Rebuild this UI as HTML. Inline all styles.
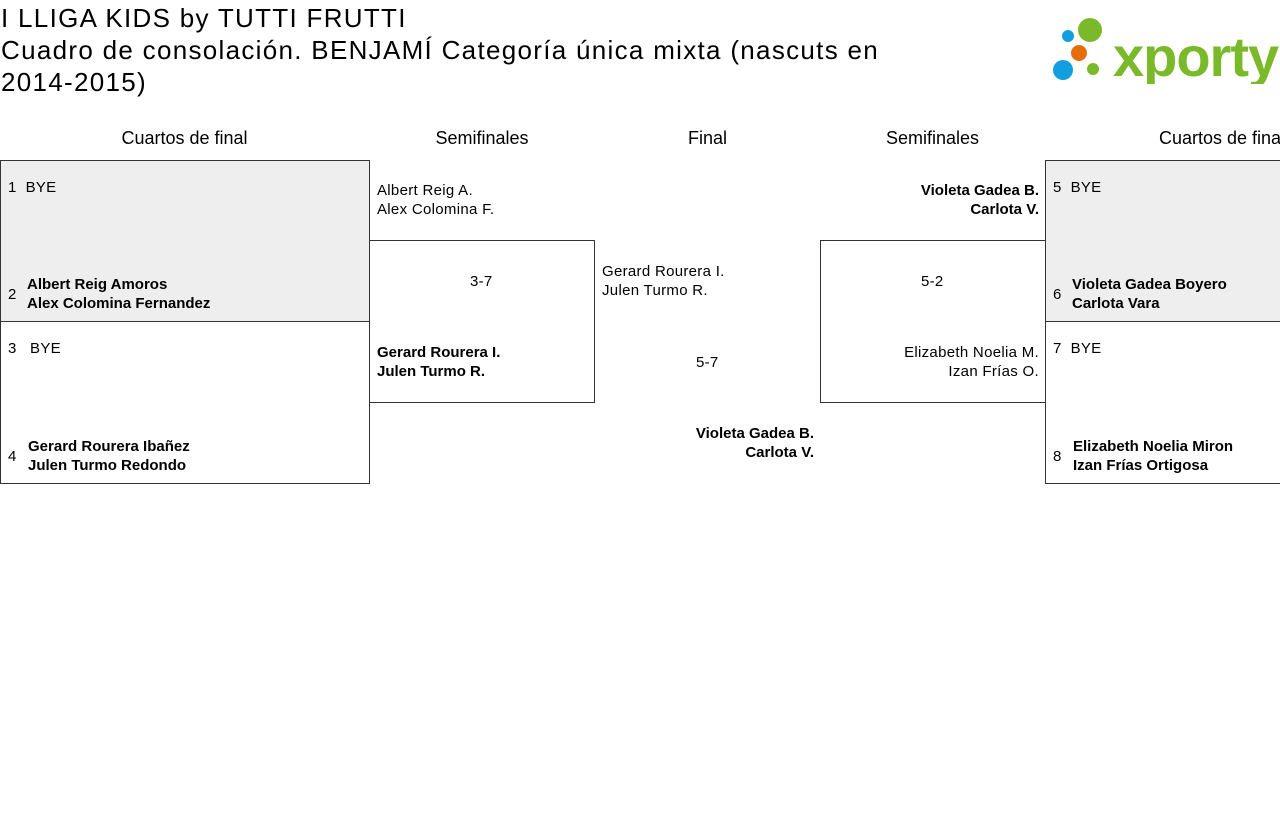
<!DOCTYPE html><html><head><meta charset="utf-8"><style>
body{margin:0;width:1280px;height:829px;background:#fff;font-family:"Liberation Sans",sans-serif;color:#000;position:relative;overflow:hidden}
.a{position:absolute}
.t{font-size:26px;line-height:32px;left:1px;top:2px;width:1000px;letter-spacing:1.3px}
.h{font-size:18px;top:128px;text-align:center}
.box{position:absolute;border:1px solid #333;box-sizing:border-box}
.g{background:#eee}
.s{font-size:15px;line-height:19px;letter-spacing:0.3px}
.b{font-weight:bold;font-size:15px;line-height:19px}
.r{text-align:right}
</style></head><body>
<div class="a t">I LLIGA KIDS by TUTTI FRUTTI<br>Cuadro de consolación. BENJAMÍ Categoría única mixta (nascuts en<br>2014-2015)</div>
<svg class="a" style="left:1050px;top:18px" width="230" height="66">
<circle cx="18" cy="18" r="6" fill="#139fdf"/><circle cx="40" cy="12" r="12" fill="#7ab929"/>
<circle cx="29" cy="35" r="8" fill="#e46e0e"/><circle cx="13" cy="52" r="10" fill="#139fdf"/><circle cx="43" cy="51" r="6" fill="#7ab929"/>
<text x="63" y="58" font-family="Liberation Sans" font-weight="bold" font-size="56" fill="#7ab929" letter-spacing="-1">xporty</text></svg>
<div class="a h" style="left:0;width:369px">Cuartos de final</div>
<div class="a h" style="left:369px;width:226px">Semifinales</div>
<div class="a h" style="left:595px;width:225px">Final</div>
<div class="a h" style="left:820px;width:225px">Semifinales</div>
<div class="a h" style="left:1045px;width:354px">Cuartos de final</div>
<div class="box g" style="left:0;top:160px;width:370px;height:162px"></div>
<div class="box" style="left:0;top:321px;width:370px;height:163px"></div>
<div class="box" style="left:369px;top:240px;width:226px;height:163px"></div>
<div class="box" style="left:820px;top:240px;width:226px;height:163px"></div>
<div class="box g" style="left:1045px;top:160px;width:240px;height:162px"></div>
<div class="box" style="left:1045px;top:321px;width:240px;height:163px"></div>
<div class="a s" style="left:8px;top:178px">1&nbsp;&nbsp;BYE</div>
<div class="a s" style="left:8px;top:285px">2</div><div class="a b" style="left:27px;top:275px">Albert Reig Amoros<br>Alex Colomina Fernandez</div>
<div class="a s" style="left:8px;top:339px">3&nbsp;&nbsp;&nbsp;BYE</div>
<div class="a s" style="left:8px;top:447px">4</div><div class="a b" style="left:28px;top:437px">Gerard Rourera Ibañez<br>Julen Turmo Redondo</div>
<div class="a s" style="left:377px;top:181px">Albert Reig A.<br>Alex Colomina F.</div>
<div class="a s" style="left:470px;top:272px">3-7</div>
<div class="a b" style="left:377px;top:343px">Gerard Rourera I.<br>Julen Turmo R.</div>
<div class="a s" style="left:602px;top:262px">Gerard Rourera I.<br>Julen Turmo R.</div>
<div class="a s" style="left:696px;top:353px">5-7</div>
<div class="a b r" style="left:600px;width:214px;top:424px">Violeta Gadea B.<br>Carlota V.</div>
<div class="a b r" style="left:825px;width:214px;top:181px">Violeta Gadea B.<br>Carlota V.</div>
<div class="a s" style="left:921px;top:272px">5-2</div>
<div class="a s r" style="left:825px;width:214px;top:343px">Elizabeth Noelia M.<br>Izan Frías O.</div>
<div class="a s" style="left:1053px;top:178px">5&nbsp;&nbsp;BYE</div>
<div class="a s" style="left:1053px;top:285px">6</div><div class="a b" style="left:1072px;top:275px">Violeta Gadea Boyero<br>Carlota Vara</div>
<div class="a s" style="left:1053px;top:339px">7&nbsp;&nbsp;BYE</div>
<div class="a s" style="left:1053px;top:447px">8</div><div class="a b" style="left:1073px;top:437px">Elizabeth Noelia Miron<br>Izan Frías Ortigosa</div>
</body></html>
